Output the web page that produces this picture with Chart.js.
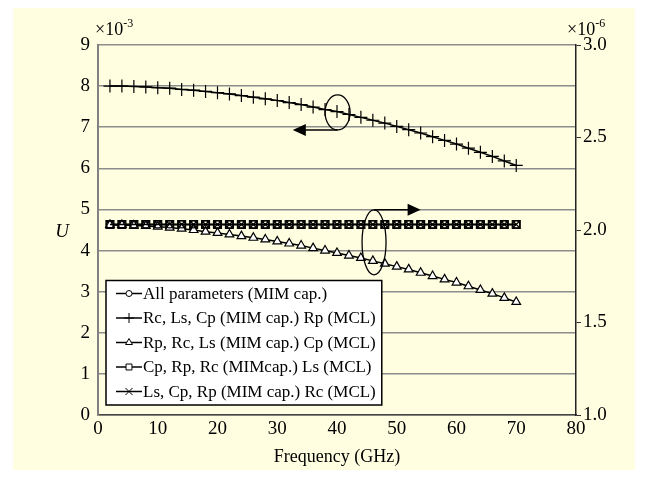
<!DOCTYPE html>
<html>
<head>
<meta charset="utf-8">
<script src="https://cdn.jsdelivr.net/npm/chart.js@4.4.0/dist/chart.umd.min.js"></script>
<style>
  html, body { margin: 0; background: #fff; }
  #panel { position: absolute; left: 13px; top: 8px; width: 622px; height: 462px; background: #fffee1; }
  #wrap { position: absolute; left: 0; top: 0; width: 647px; height: 477px; }
</style>
</head>
<body>
<div id="panel"></div>
<div id="wrap"><canvas id="chart"></canvas></div>
<script>
// frequency points (GHz)
const freq = [2, 4, 6, 8, 10, 12, 14, 16, 18, 20, 22, 24, 26, 28, 30, 32, 34, 36,
  38, 40, 42, 44, 46, 48, 50, 52, 54, 56, 58, 60, 62, 64, 66, 68, 70];

// left axis, x10^-3
const rcLsCp = [8.00, 8.00, 7.99, 7.98, 7.96, 7.95, 7.92, 7.90, 7.87, 7.84, 7.81, 7.77,
  7.73, 7.69, 7.65, 7.60, 7.55, 7.49, 7.43, 7.38, 7.31, 7.24, 7.17, 7.10, 7.02, 6.94,
  6.86, 6.77, 6.68, 6.59, 6.49, 6.39, 6.29, 6.18, 6.07];

// right axis, x10^-6
const allParams = [2.03, 2.03, 2.03, 2.03, 2.03, 2.03, 2.03, 2.03, 2.03, 2.03, 2.03, 2.03,
  2.03, 2.03, 2.03, 2.03, 2.03, 2.03, 2.03, 2.03, 2.03, 2.03, 2.03, 2.03, 2.03, 2.03,
  2.03, 2.03, 2.03, 2.03, 2.03, 2.03, 2.03, 2.03, 2.03];
const rpRcLs = [2.027, 2.027, 2.024, 2.022, 2.018, 2.013, 2.007, 2.000, 1.991, 1.984,
  1.976, 1.967, 1.958, 1.949, 1.938, 1.927, 1.916, 1.902, 1.889, 1.876, 1.862, 1.849,
  1.833, 1.818, 1.802, 1.787, 1.769, 1.751, 1.733, 1.716, 1.696, 1.676, 1.656, 1.633, 1.611];
const cpRpRc = [2.03, 2.03, 2.03, 2.03, 2.03, 2.03, 2.03, 2.03, 2.03, 2.03, 2.03, 2.03,
  2.03, 2.03, 2.03, 2.03, 2.03, 2.03, 2.03, 2.03, 2.03, 2.03, 2.03, 2.03, 2.03, 2.03,
  2.03, 2.03, 2.03, 2.03, 2.03, 2.03, 2.03, 2.03, 2.03];
const lsCpRp = [2.03, 2.03, 2.03, 2.03, 2.03, 2.03, 2.03, 2.03, 2.03, 2.03, 2.03, 2.03,
  2.03, 2.03, 2.03, 2.03, 2.03, 2.03, 2.03, 2.03, 2.03, 2.03, 2.03, 2.03, 2.03, 2.03,
  2.03, 2.03, 2.03, 2.03, 2.03, 2.03, 2.03, 2.03, 2.03];

const labels = [
  "All parameters (MIM cap.)",
  "Rc, Ls, Cp (MIM cap.) Rp (MCL)",
  "Rp, Rc, Ls (MIM cap.) Cp (MCL)",
  "Cp, Rp, Rc (MIMcap.) Ls (MCL)",
  "Ls, Cp, Rp (MIM cap.) Rc (MCL)"
];

const xTicks = [0, 10, 20, 30, 40, 50, 60, 70, 80];
const leftTicks = [0, 1, 2, 3, 4, 5, 6, 7, 8, 9];
const rightTicks = [1.0, 1.5, 2.0, 2.5, 3.0];

const SERIF = "'Liberation Serif', 'Times New Roman', serif";

const pts = ys => freq.map((f, i) => ({ x: f, y: ys[i] }));

function series(label, ys, axis, style, radius, fillColor) {
  return {
    label: label,
    data: pts(ys),
    yAxisID: axis,
    borderColor: "#000",
    borderWidth: 1.5,
    pointStyle: style,
    pointRadius: radius,
    pointBorderColor: "#000",
    pointBackgroundColor: fillColor,
    pointBorderWidth: 1.2,
    tension: 0,
    fill: false
  };
}

// legend markers (smaller than on the curves)
const legendMarks = [
  { pointStyle: "circle", radius: 3 },
  { pointStyle: "cross", radius: 5 },
  { pointStyle: "triangle", radius: 4 },
  { pointStyle: "rect", radius: 4.2 },
  { pointStyle: "crossRot", radius: 5 }
];

function arrow(ctx, x1, y1, x2, y2) {
  const dir = Math.sign(x2 - x1);
  ctx.beginPath();
  ctx.moveTo(x1, y1);
  ctx.lineTo(x2 - dir * 10, y2);
  ctx.stroke();
  ctx.beginPath();
  ctx.moveTo(x2, y2);
  ctx.lineTo(x2 - dir * 13, y2 - 6);
  ctx.lineTo(x2 - dir * 13, y2 + 6);
  ctx.closePath();
  ctx.fill();
}

const extras = {
  id: "extras",
  afterDraw(chart) {
    const { ctx, chartArea } = chart;
    const xs = chart.scales.x, yl = chart.scales.y;
    ctx.save();
    ctx.strokeStyle = "#000";
    ctx.fillStyle = "#000";
    ctx.lineWidth = 1.3;

    // ellipse + arrow for left-axis curve
    const e1x = xs.getPixelForValue(40.1), e1y = yl.getPixelForValue(7.36);
    ctx.beginPath();
    ctx.ellipse(e1x, e1y, 12.5, 17.5, 0, 0, Math.PI * 2);
    ctx.stroke();
    ctx.lineWidth = 1.5;
    arrow(ctx, e1x, e1y + 17.5, xs.getPixelForValue(32.6), e1y + 17.5);

    // ellipse + arrow for right-axis curves
    ctx.lineWidth = 1.3;
    const e2x = xs.getPixelForValue(46.2), e2y = yl.getPixelForValue(4.2);
    ctx.beginPath();
    ctx.ellipse(e2x, e2y, 12, 32.5, 0, 0, Math.PI * 2);
    ctx.stroke();
    ctx.lineWidth = 1.5;
    arrow(ctx, e2x, e2y - 32.5, xs.getPixelForValue(54), e2y - 32.5);

    // axis text
    ctx.font = "italic 19px " + SERIF;
    ctx.textAlign = "center";
    ctx.textBaseline = "middle";
    ctx.fillText("U", chartArea.left - 36, yl.getPixelForValue(4.45));

    const exp = (x, txt) => {
      ctx.textAlign = "left";
      ctx.textBaseline = "alphabetic";
      ctx.font = "18px " + SERIF;
      ctx.fillText("\u00d710", x, chartArea.top - 10);
      const w = ctx.measureText("\u00d710").width;
      ctx.font = "12px " + SERIF;
      ctx.fillText(txt, x + w, chartArea.top - 18);
    };
    exp(chartArea.left - 3, "-3");
    exp(chartArea.right - 9, "-6");

    // legend box
    ctx.font = "17px " + SERIF;
    let tw = 0;
    labels.forEach(l => { tw = Math.max(tw, ctx.measureText(l).width); });
    const bx = chartArea.left + 8, rowH = 24.5;
    const bh = rowH * labels.length + 2;
    const by = chartArea.bottom - 10 - bh;
    const bw = 38 + tw + 5;
    ctx.fillStyle = "#fff";
    ctx.fillRect(bx, by, bw, bh);
    ctx.strokeStyle = "#000";
    ctx.lineWidth = 1.5;
    ctx.strokeRect(bx, by, bw, bh);
    labels.forEach((l, i) => {
      const cy = by + 13 + i * rowH;
      ctx.strokeStyle = "#000";
      ctx.lineWidth = 1.5;
      ctx.beginPath();
      ctx.moveTo(bx + 10, cy);
      ctx.lineTo(bx + 36, cy);
      ctx.stroke();
      ctx.fillStyle = "#fff";
      ctx.lineWidth = 1;
      Chart.helpers.drawPoint(ctx, { ...legendMarks[i], borderWidth: 1, rotation: 0 }, bx + 23, cy);
      ctx.fillStyle = "#000";
      ctx.textAlign = "left";
      ctx.textBaseline = "middle";
      ctx.fillText(l, bx + 37, cy + 1);
    });
    ctx.restore();
  }
};

new Chart(document.getElementById("chart"), {
  type: "line",
  data: {
    datasets: [
      series(labels[0], allParams, "y2", "circle", 3.5, "rgba(0,0,0,0)"),
      series(labels[1], rcLsCp, "y", "cross", 6.5, "#fff"),
      series(labels[2], rpRcLs, "y2", "triangle", 5, "#fff"),
      series(labels[3], cpRpRc, "y2", "rect", 5.6, "rgba(0,0,0,0)"),
      series(labels[4], lsCpRp, "y2", "crossRot", 5.6, "rgba(0,0,0,0)")
    ]
  },
  options: {
    responsive: true,
    maintainAspectRatio: false,
    animation: false,
    layout: { padding: { top: 45, left: 0, right: 0, bottom: 0 } },
    plugins: { legend: { display: false }, tooltip: { enabled: false } },
    scales: {
      x: {
        type: "linear",
        min: 0, max: 80,
        afterBuildTicks: s => { s.ticks = xTicks.map(v => ({ value: v })); },
        ticks: { color: "#000", font: { family: SERIF, size: 19 }, padding: 3, maxRotation: 0 },
        grid: { display: false, drawTicks: false },
        border: { color: "#444", width: 1.5 },
        title: { display: true, text: "Frequency (GHz)", color: "#000",
          font: { family: SERIF, size: 18 }, padding: { top: 0, bottom: 9 } },
        afterFit: s => { s.height = 62; }
      },
      y: {
        position: "left",
        min: 0, max: 9,
        afterBuildTicks: s => { s.ticks = leftTicks.map(v => ({ value: v })); },
        ticks: { color: "#000", font: { family: SERIF, size: 19 }, padding: 8 },
        grid: { color: "#8c8c8c", lineWidth: 1.5, drawTicks: false },
        border: { color: "#808080", width: 2 },
        afterFit: s => { s.width = 98; }
      },
      y2: {
        position: "right",
        min: 1, max: 3,
        afterBuildTicks: s => { s.ticks = rightTicks.map(v => ({ value: v })); },
        ticks: { color: "#000", font: { family: SERIF, size: 19 }, padding: 2,
          callback: v => Number(v).toFixed(1) },
        grid: { drawOnChartArea: false, drawTicks: true, tickLength: 5, color: "#333" },
        border: { color: "#222", width: 1.5 },
        afterFit: s => { s.width = 71; }
      }
    }
  },
  plugins: [extras]
});
</script>
</body>
</html>
